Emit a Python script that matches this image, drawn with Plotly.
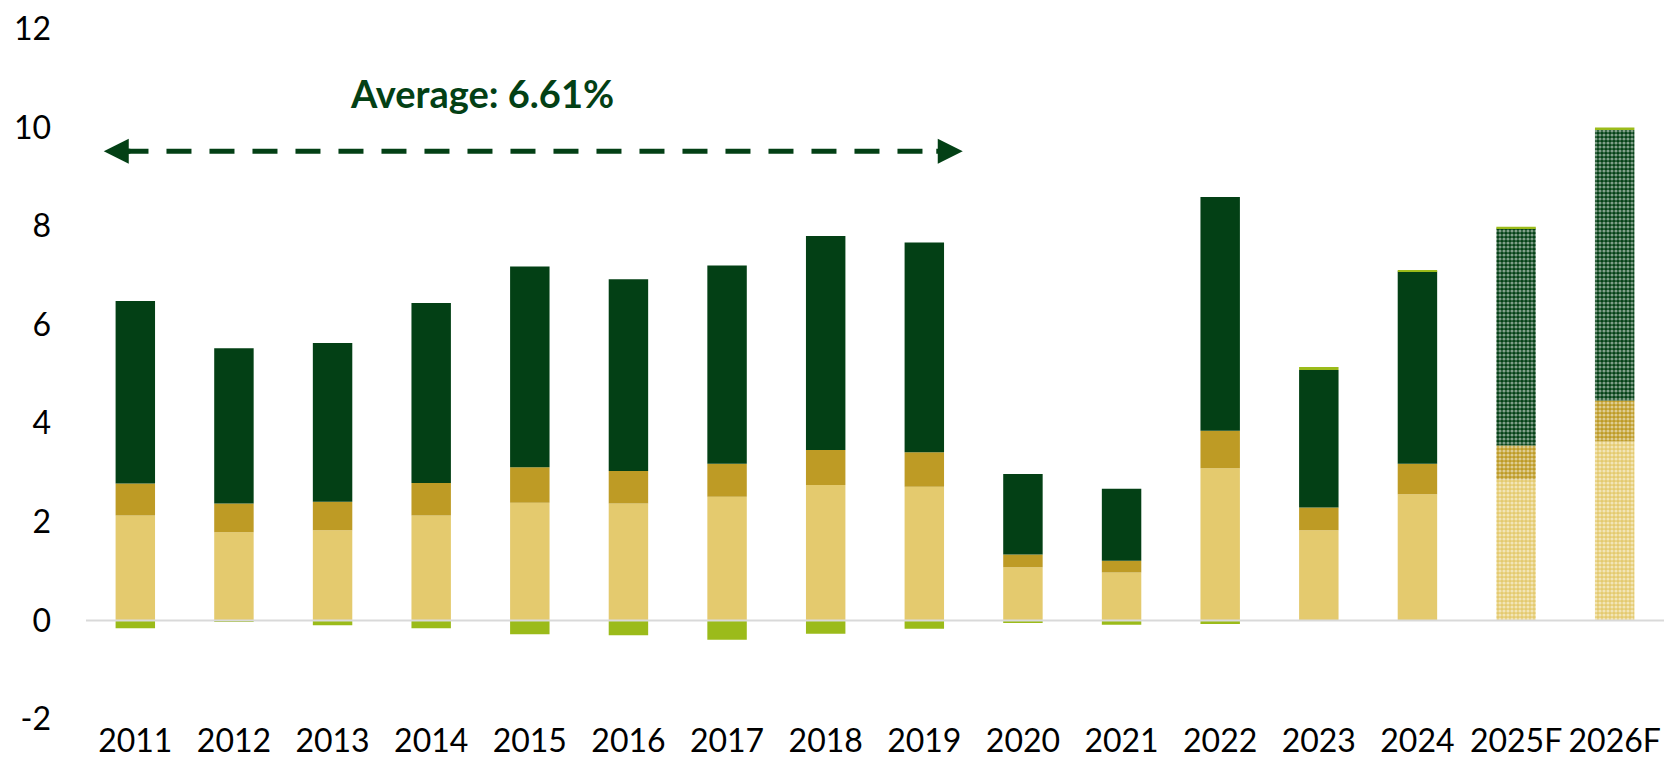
import plotly.graph_objects as go

years = ['2011', '2012', '2013', '2014', '2015', '2016', '2017', '2018',
         '2019', '2020', '2021', '2022', '2023', '2024', '2025F', '2026F']

# stacked components
base_part = [2.13, 1.79, 1.83, 2.13, 2.39, 2.37, 2.51, 2.75,
             2.71, 1.08, 0.97, 3.09, 1.83, 2.56, 2.86, 3.63]
gold_part = [0.65, 0.58, 0.58, 0.66, 0.72, 0.66, 0.67, 0.71,
             0.70, 0.26, 0.24, 0.76, 0.46, 0.62, 0.69, 0.83]
green_part = [3.70, 3.15, 3.22, 3.65, 4.07, 3.89, 4.02, 4.34,
              4.26, 1.63, 1.46, 4.74, 2.79, 3.90, 4.40, 5.49]
lime_part = [-0.16, -0.03, -0.10, -0.16, -0.28, -0.30, -0.39, -0.27,
             -0.17, -0.05, -0.09, -0.07, 0.06, 0.03, 0.04, 0.05]

forecast = ['2025F', '2026F']
y_ticks = [-2, 0, 2, 4, 6, 8, 10, 12]

avg_text = 'Average: 6.61%'
avg_from, avg_to = -0.32, 8.39   # category span of the arrow
avg_y = 9.52

DARK = '#034015'
FONT = 'Lato'

shapes_pt = ['.' if y in forecast else '' for y in years]

fig = go.Figure()
for vals, col, pat in [(base_part, '#E4CA6E', True),
                       (gold_part, '#BE9B25', True),
                       (green_part, DARK, True),
                       (lime_part, '#9BBB1A', False)]:
    marker = dict(color=col, line=dict(width=0))
    if pat:
        marker['pattern'] = dict(shape=shapes_pt, fgcolor='white', size=4, solidity=0.5)
    fig.add_trace(go.Bar(x=years, y=vals, marker=marker, showlegend=False))

# dashed double arrow + label
fig.add_shape(type='line', xref='x', yref='y', x0=avg_from + 0.2, x1=avg_to - 0.2,
              y0=avg_y, y1=avg_y, line=dict(color=DARK, width=5, dash='25px,18px'))
for xa, off in [(avg_from, 28), (avg_to, -28)]:
    fig.add_annotation(x=xa, y=avg_y, xref='x', yref='y', text='', showarrow=True,
                       ax=off, ay=0, arrowhead=2, arrowsize=1, arrowwidth=5, arrowcolor=DARK)
fig.add_annotation(x=3.52, y=10.7, xref='x', yref='y', text='<b>' + avg_text + '</b>',
                   showarrow=False, font=dict(family=FONT, size=38, color=DARK))

# zero line over the bars
fig.add_shape(type='line', xref='paper', yref='y', x0=0, x1=1, y0=0, y1=0,
              line=dict(color='#D9D9D9', width=2), layer='above')

fig.update_layout(
    barmode='relative', bargap=0.6,
    width=1664, height=784,
    margin=dict(l=86, r=0, t=29, b=65),
    plot_bgcolor='white', paper_bgcolor='white',
    font=dict(family=FONT, size=32, color='black'),
)
fig.update_xaxes(showgrid=False, showline=False, ticks='', tickfont=dict(size=32),
                 ticklabeloverflow='allow')
fig.update_yaxes(range=[-2, 12], tickvals=y_ticks, ticktext=[str(v) for v in y_ticks],
                 showgrid=False, zeroline=False, showline=False, ticks='',
                 ticklabelstandoff=34, tickfont=dict(size=32), ticklabeloverflow='allow')

# drop the default 8px body margin so the figure fills the window exactly
fig.write_html('out.html', config={'displayModeBar': False},
               post_script="document.body.style.margin='0';")
